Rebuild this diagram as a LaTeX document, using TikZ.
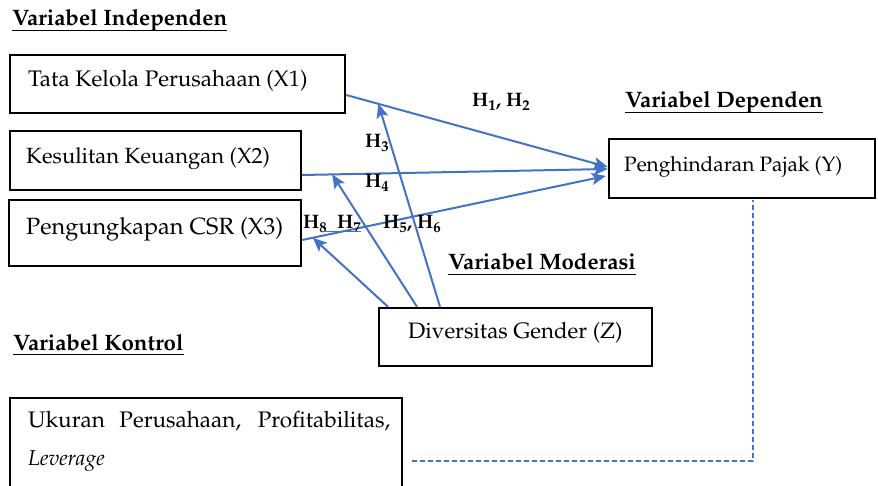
\documentclass[tikz,border=0pt]{standalone}
\usepackage[T1]{fontenc}
\usepackage{mathpazo}
\usetikzlibrary{arrows.meta,calc}
\definecolor{arr}{HTML}{4472C4}
\newcommand\fs[1]{\fontsize{#1}{#1}\selectfont}
\begin{document}
\begin{tikzpicture}[x=1pt,y=-1pt,
  box/.style={draw=black,line width=2.4pt,rectangle,inner sep=0pt},
  lbl/.style={anchor=base west,inner sep=0pt},
  hdr/.style={font=\fs{22.3}\bfseries,anchor=base west,inner sep=0pt},
  hl/.style={font=\fs{19.5}\bfseries,anchor=base west,inner sep=0pt},
  uline/.style={line width=1.1pt},
  arrow/.style={draw=arr,line width=2pt,-{Stealth[length=14pt,width=12pt,inset=3pt]}},
  ctrl/.style={draw=arr,line width=1.3pt,dash pattern=on 5pt off 3pt}]
\useasboundingbox (0,0) rectangle (878,486);
% boxes
\node[box,minimum width=335pt,minimum height=58pt] (x1) at (177.5,84) {};
\node[box,minimum width=291pt,minimum height=59pt] (x2) at (155.5,160.5) {};
\node[box,minimum width=292pt,minimum height=66pt] (x3) at (155,233) {};
\node[box,minimum width=266pt,minimum height=59pt] (yb) at (742,168.5) {};
\node[box,minimum width=273pt,minimum height=58pt] (zb) at (515.5,337) {};
\node[box,minimum width=392pt,minimum height=104pt] (cb) at (206,450) {};
% box texts
\node[lbl,font=\fs{22.5}] (tx1) at (28,87) {Tata Kelola Perusahaan (X1)};
\node[lbl,font=\fs{22}] (tx2) at (26,164) {Kesulitan Keuangan (X2)};
\node[lbl,font=\fs{23.5}] (tx3) at (26,235) {Pengungkapan CSR (X3)};
\node[lbl,font=\fs{20.8}] (ty) at (624,172) {Penghindaran Pajak (Y)};
\node[lbl,font=\fs{22.3}] (tz) at (408,338) {Diversitas Gender (Z)};
\node[lbl,font=\fs{22.5}] (tc1) at (28,427) {\makebox[362pt][s]{Ukuran Perusahaan, Profitabilitas,}};
\node[lbl,font=\fs{21.5}] (tc2) at (28,465) {\itshape Leverage};
% headers
\node[hdr] (hi) at (12,26) {Variabel Independen};
\node[hdr] (hd) at (625,108) {Variabel Dependen};
\node[hdr] (hm) at (448,270) {Variabel Moderasi};
\node[hdr] (hk) at (13,350) {Variabel Kontrol};
\foreach \h in {hi,hd,hm,hk}
  \draw[uline] ([yshift=-4.5pt]\h.base west) -- ([yshift=-4.5pt]\h.base east);
% main arrows
\coordinate (a1) at ($(x1.east)+(0,11)$);
\coordinate (a2) at ($(x2.east)+(0,14.5)$);
\coordinate (a3) at ($(x3.east)+(0,7)$);
\coordinate (e1) at ($(yb.west)+(0,-1.5)$);
\coordinate (e2) at ($(yb.west)+(0,0.5)$);
\coordinate (e3) at ($(yb.west)+(-2,7.5)$);
\draw[arrow] (a1) -- (e1);
\draw[arrow] (a2) -- (e2);
\draw[arrow] (a3) -- (e3);
% moderation arrows
\coordinate (t3) at ($(a1)!0.123!(e1)$);
\coordinate (t4) at ($(a2)!0.098!(e2)$);
\coordinate (t7) at ($(a3)!0.035!(e3)$);
\draw[arrow] ($(zb.north)+(-75.5,0)$) -- (t3);
\draw[arrow] ($(zb.north)+(-98.5,0)$) -- (t4);
\draw[arrow] ($(zb.north)+(-127.5,0)$) -- (t7);
% control link
\draw[ctrl] ($(cb.east)+(9,11)$) -| ($(yb.south)+(11,1)$);
% hypothesis labels
\node[hl] (h12) at (472,107) {H\textsubscript{1}, H\textsubscript{2}};
\node[hl] (h3) at (365,148) {H\textsubscript{3}};
\node[hl] (h4) at (365,188) {H\textsubscript{4}};
\node[hl] (h87) at (303,229) {H\textsubscript{8}\ \ H\textsubscript{7}};
\node[hl] (h56) at (383,229) {H\textsubscript{5}, H\textsubscript{6}};
\draw[draw=arr,line width=0.9pt] ($(h87.base west)+(19,2.5)$) -- ($(h87.base east)+(0,2.5)$);
\end{tikzpicture}
\end{document}
